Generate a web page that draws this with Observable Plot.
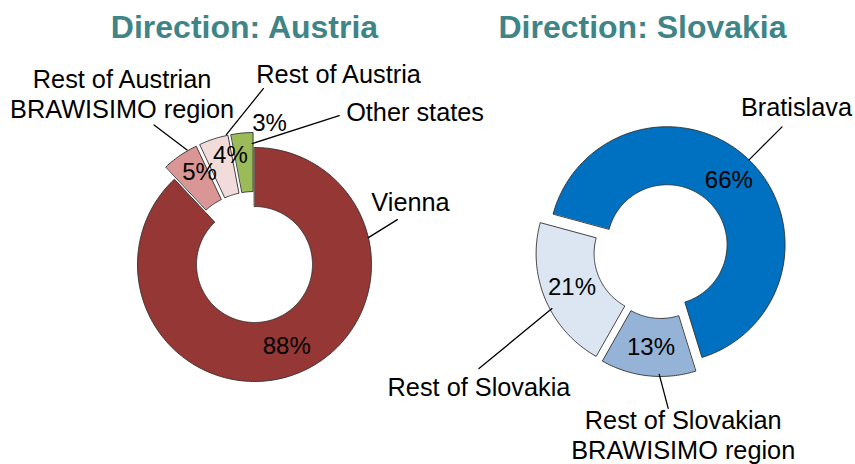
<!DOCTYPE html>
<html><head><meta charset="utf-8">
<script src="https://cdn.jsdelivr.net/npm/d3@7"></script>
<script src="https://cdn.jsdelivr.net/npm/@observablehq/plot@0.6"></script>
<style>body{margin:0;background:#fff}</style>
</head><body><div id="chart"></div>
<script>
// ---- data ----
const titles = ["Direction: Austria", "Direction: Slovakia"];
const austriaCategories = ["Vienna", "Rest of Austrian\nBRAWISIMO region", "Rest of Austria", "Other states"];
const austriaValues = [88, 5, 4, 3];
const slovakiaCategories = ["Bratislava", "Rest of Slovakian\nBRAWISIMO region", "Rest of Slovakia"];
const slovakiaValues = [66, 13, 21];

// ---- styling / layout ----
const austriaColors = ["#953735", "#d99694", "#f2dcdb", "#9bbb59"];
const slovakiaColors = ["#0070c0", "#95b3d7", "#dce6f2"];
const donutLayout = [
  {cx: 254, cy: 264, R: 117, r: 58, start: 0, titleX: 244, titleY: 37,
   explode: [0, 15, 15, 15],
   // leader: attach angle(deg)/radius on slice, offset to leader end; label position relative to leader end (y = last baseline)
   leaders: [
     {a: 76.7, rad: 117, dx: 29, dy: -18, lx: -26, ly: -9, anchor: "start"},
     {a: 330, rad: 118, dx: -33, dy: -25, lx: -32, ly: -7, anchor: "middle"},
     {a: 348.5, rad: 118, dx: 37, dy: -46, lx: -7, ly: -6, anchor: "start"},
     {a: 359.5, rad: 106, dx: 87, dy: -28, lx: 7, ly: 5, anchor: "start"}
   ],
   pct: [null, {rad: 107, da: 3.3}, {rad: 112, da: 5.6}, {rad: 142, da: 11.5}]},
  {cx: 661, cy: 250, R: 118, r: 60, start: 285.2, titleX: 642, titleY: 37,
   explode: [8, 8, 8],
   leaders: [
     {a: 44, rad: 118, dx: 33, dy: -33, lx: 70, ly: -11, anchor: "end"},
     {a: 180.7, rad: 116, dx: 9, dy: 34, lx: 15, ly: 51, anchor: "middle"},
     {a: 241.7, rad: 116, dx: -73, dy: 60, lx: 0, ly: 27, anchor: "middle"}
   ],
   pct: [null, null, null]}
];

const rad = Math.PI / 180;
const sectors = [], labels = [], leaderPts = [], pctLabels = [];
[[austriaCategories, austriaValues, austriaColors], [slovakiaCategories, slovakiaValues, slovakiaColors]].forEach(([cats, vals, cols], k) => {
  const L = donutLayout[k];
  const total = d3.sum(vals);
  let a0 = L.start;
  vals.forEach((v, i) => {
    const span = v / total * 360;
    const a1 = a0 + span, mid = (a0 + a1) / 2;
    const ox = L.cx + L.explode[i] * Math.sin(mid * rad);
    const oy = L.cy - L.explode[i] * Math.cos(mid * rad);
    const key = k + "-" + i;
    const n = Math.max(4, Math.ceil(span));
    for (let j = 0; j <= n; j++) {
      const a = (a0 + span * j / n) * rad;
      sectors.push({key, color: cols[i], x: ox + L.R * Math.sin(a), y: oy - L.R * Math.cos(a)});
    }
    for (let j = n; j >= 0; j--) {
      const a = (a0 + span * j / n) * rad;
      sectors.push({key, color: cols[i], x: ox + L.r * Math.sin(a), y: oy - L.r * Math.cos(a)});
    }
    // percent label
    const p = L.pct[i] || {};
    const pr = p.rad ?? (L.R + L.r) / 2 + L.explode[i];
    const pa = (mid + (p.da || 0)) * rad;
    pctLabels.push({text: Math.round(v / total * 100) + "%", x: L.cx + pr * Math.sin(pa), y: L.cy - pr * Math.cos(pa)});
    // leader + category label
    const ld = L.leaders[i];
    const sx = ox + ld.rad * Math.sin(ld.a * rad), sy = oy - ld.rad * Math.cos(ld.a * rad);
    const ex = sx + ld.dx, ey = sy + ld.dy;
    leaderPts.push({key, x: sx, y: sy}, {key, x: ex, y: ey});
    labels.push({text: cats[i], x: ex + ld.lx, y: ey + ld.ly, anchor: ld.anchor});
    a0 = a1;
  });
});
const titleData = titles.map((t, k) => ({text: t, x: donutLayout[k].titleX, y: donutLayout[k].titleY}));

const font = "Liberation Sans, Arial, sans-serif";
const chart = Plot.plot({
  width: 855, height: 464,
  margin: 0,
  x: {domain: [0, 855], range: [0, 855], axis: null},
  y: {domain: [0, 464], range: [0, 464], axis: null},
  color: {type: "identity"},
  style: {fontFamily: font, background: "white"},
  marks: [
    Plot.line(sectors, {x: "x", y: "y", z: "key", fill: "color", stroke: "#2f2f2f", strokeWidth: 0.9, curve: "linear-closed"}),
    Plot.line(leaderPts, {x: "x", y: "y", z: "key", stroke: "#000", strokeWidth: 1.3}),
    Plot.text(pctLabels, {x: "x", y: "y", text: "text", fontSize: 24, fill: "#000", textAnchor: "middle", lineAnchor: "middle"}),
    ...["start", "middle", "end"].map(anc => Plot.text(labels.filter(d => d.anchor === anc), {x: "x", y: "y", text: "text", fontSize: 25.3, fill: "#000", textAnchor: anc, lineAnchor: "bottom", lineHeight: 1.19})),
    Plot.text(titleData, {x: "x", y: "y", text: "text", fontSize: 32, fontWeight: "bold", fill: "#3f8487", textAnchor: "middle", lineAnchor: "bottom"})
  ]
});
document.getElementById("chart").appendChild(chart);
</script>
</body></html>
